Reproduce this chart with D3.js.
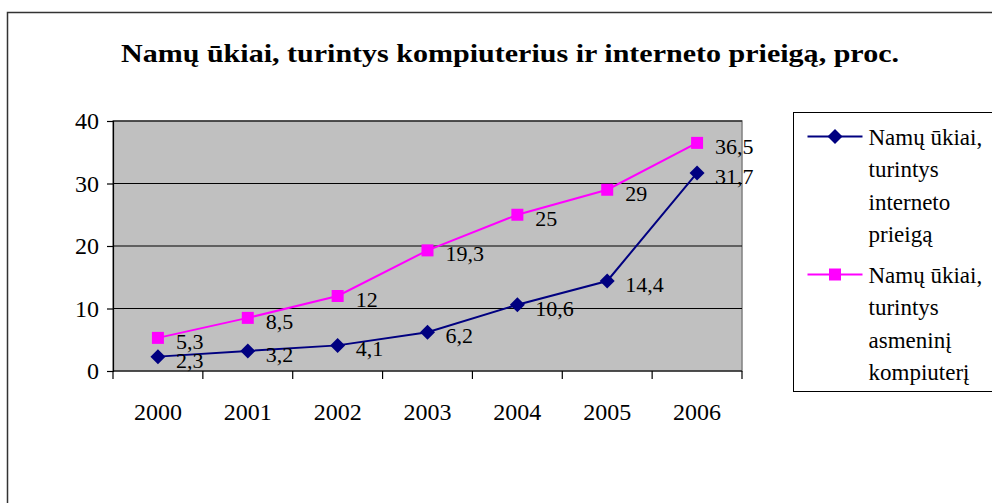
<!DOCTYPE html>
<html>
  <head>
    <meta charset="utf-8">
    <title>Namų ūkiai</title>
    <script src="https://cdn.jsdelivr.net/npm/d3@7"></script>
    <style>
      body { margin: 0; background: #fff; }
    </style>
  </head>
  <body>
    <svg width="992" height="503" id="mainsvg"></svg>
    <script>
      const years = ['2000', '2001', '2002', '2003', '2004', '2005', '2006'];
      const internetValues = [2.3, 3.2, 4.1, 6.2, 10.6, 14.4, 31.7];
      const computerValues = [5.3, 8.5, 12, 19.3, 25, 29, 36.5];
      const yTicks = [0, 10, 20, 30, 40];
      const seriesNames = [
        ['Namų ūkiai,', 'turintys', 'interneto', 'prieigą'],
        ['Namų ūkiai,', 'turintys', 'asmeninį', 'kompiuterį']
      ];
      const title = 'Namų ūkiai, turintys kompiuterius ir interneto prieigą, proc.';
      const serif = "'Liberation Serif', 'Times New Roman', Tinos, 'DejaVu Serif', serif";

      const svg = d3.select('#mainsvg').style('font-family', serif);
      const margin = {top: 121, left: 113};
      const innerWidth = 629;
      const innerHeight = 250;

      // outer chart frame (cut off on right and bottom)
      svg.append('rect')
        .attr('x', 7.5).attr('y', 12.5)
        .attr('width', 1100).attr('height', 600)
        .attr('fill', '#fff').attr('stroke', '#333').attr('stroke-width', 1.5);

      const titleText = svg.append('text')
        .attr('x', 510).attr('y', 62)
        .attr('text-anchor', 'middle')
        .style('font-family', serif)
        .attr('font-size', 26).attr('font-weight', 'bold')
        .text(title);
      // stretch title to the reference width
      titleText.attr('textLength', 778).attr('lengthAdjust', 'spacingAndGlyphs');

      const g = svg.append('g')
        .attr('transform', `translate(${margin.left}, ${margin.top})`);

      const xScale = d3.scaleBand().domain(years).range([0, innerWidth]);
      const yScale = d3.scaleLinear().domain([0, 40]).range([innerHeight, 0]);

      // plot area
      g.append('rect')
        .attr('width', innerWidth).attr('height', innerHeight)
        .attr('fill', '#c0c0c0').attr('stroke', '#808080').attr('stroke-width', 1.5);

      // gridlines
      g.selectAll('.grid').data(yTicks.slice(1)).enter().append('line')
        .attr('x1', 0).attr('x2', innerWidth)
        .attr('y1', d => yScale(d)).attr('y2', d => yScale(d))
        .attr('stroke', '#000').attr('stroke-width', 1);

      // y axis
      const yAxis = d3.axisLeft(yScale).tickValues(yTicks).tickSize(6).tickPadding(8);
      const yAxisGroup = g.append('g').call(yAxis).attr('font-size', 24);
      yAxisGroup.style('font-family', serif);
      yAxisGroup.selectAll('text').attr('fill', '#000').style('font-family', serif);
      yAxisGroup.selectAll('line, path').attr('stroke', '#000').attr('stroke-width', 1.2);

      // x axis: ticks sit between categories
      const xAxisGroup = g.append('g').attr('transform', `translate(0, ${innerHeight})`);
      xAxisGroup.append('line')
        .attr('x1', 0).attr('x2', innerWidth)
        .attr('stroke', '#000').attr('stroke-width', 1.2);
      const boundaries = years.map(d => xScale(d)).concat([innerWidth]);
      xAxisGroup.selectAll('.tick-b').data(boundaries).enter().append('line')
        .attr('x1', d => d).attr('x2', d => d)
        .attr('y1', 0).attr('y2', 8)
        .attr('stroke', '#000').attr('stroke-width', 1.2);
      xAxisGroup.selectAll('.lbl').data(years).enter().append('text')
        .attr('x', d => xScale(d) + xScale.bandwidth() / 2)
        .attr('y', 49)
        .attr('text-anchor', 'middle')
        .attr('font-size', 24)
        .style('font-family', serif)
        .text(d => d);

      const cx = (d, i) => xScale(years[i]) + xScale.bandwidth() / 2;
      const line = d3.line().x(cx).y(d => yScale(d));

      // markers: rhombus for internet, square for computers
      const diamond = r => `M0,${-r}L${r},0L0,${r}L${-r},0Z`;
      const square = r => `M${-r},${-r}H${r}V${r}H${-r}Z`;

      const series = [
        {values: internetValues, color: '#000080', marker: diamond(7.5)},
        {values: computerValues, color: '#ff00ff', marker: square(6)}
      ];

      series.forEach(s => {
        g.append('path')
          .datum(s.values)
          .attr('d', line)
          .attr('fill', 'none')
          .attr('stroke', s.color)
          .attr('stroke-width', 2);
        g.selectAll(null).data(s.values).enter().append('path')
          .attr('d', s.marker)
          .attr('transform', (d, i) => `translate(${cx(d, i)}, ${yScale(d)})`)
          .attr('fill', s.color);
        g.selectAll(null).data(s.values).enter().append('text')
          .attr('x', (d, i) => cx(d, i) + 18)
          .attr('y', d => yScale(d) + 11)
          .attr('font-size', 22)
          .style('font-family', serif)
          .text(d => String(d).replace('.', ','));
      });

      // legend
      const legend = svg.append('g').attr('transform', 'translate(793.5, 112.5)');
      legend.append('rect')
        .attr('width', 250).attr('height', 279)
        .attr('fill', '#fff').attr('stroke', '#000').attr('stroke-width', 1);
      const legendY = [24, 162];
      series.forEach((s, k) => {
        const ly = legendY[k];
        legend.append('line')
          .attr('x1', 14).attr('x2', 69).attr('y1', ly).attr('y2', ly)
          .attr('stroke', s.color).attr('stroke-width', 2);
        legend.append('path')
          .attr('d', s.marker)
          .attr('transform', `translate(41.5, ${ly})`)
          .attr('fill', s.color);
        legend.selectAll(null).data(seriesNames[k]).enter().append('text')
          .attr('x', 75)
          .attr('y', (d, i) => ly + 8 + i * 32.5)
          .attr('font-size', 23)
          .style('font-family', serif)
          .text(d => d);
      });
    </script>
  </body>
</html>
